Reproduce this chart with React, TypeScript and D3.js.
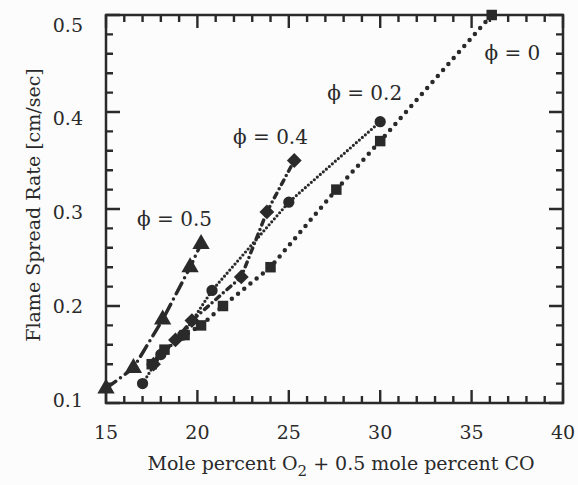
import React from "react";
import * as d3 from "d3";

const phi0X = [17.5, 18.2, 19.3, 20.2, 21.4, 24.0, 27.6, 30.0, 36.1];
const phi0Y = [0.14, 0.155, 0.17, 0.18, 0.2, 0.24, 0.32, 0.37, 0.5];
const phi02X = [17.0, 18.0, 19.2, 20.8, 25.0, 30.0];
const phi02Y = [0.12, 0.15, 0.17, 0.216, 0.307, 0.39];
const phi04X = [17.6, 18.8, 19.7, 22.4, 23.8, 25.3];
const phi04Y = [0.14, 0.165, 0.185, 0.23, 0.297, 0.35];
const phi05X = [15.0, 16.5, 18.1, 19.6, 20.2];
const phi05Y = [0.115, 0.136, 0.186, 0.24, 0.264];

const seriesLabels = ["\u03d5 = 0", "\u03d5 = 0.2", "\u03d5 = 0.4", "\u03d5 = 0.5"];
const labelX = [35.7, 27.1, 21.95, 16.7];
const labelY = [0.461, 0.42, 0.374, 0.29];

const xTicks = [15, 20, 25, 30, 35, 40];
const yTicks = [0.1, 0.2, 0.3, 0.4, 0.5];

const W = 578;
const H = 485;
const M = { left: 106, right: 563, top: 15, bottom: 403 };
const INK = "#2a2a2a";
const FONT = "'DejaVu Serif', serif";

export default function App() {
  const x = d3.scaleLinear().domain([15, 40]).range([M.left, M.right]);
  const y = d3.scaleLinear().domain([0.1, 0.5]).range([M.bottom, M.top]);
  const yLab = d3.scaleLinear().domain([0.1, 0.5]).range([400, 25]);

  const mk = (xs: number[], ys: number[]) => xs.map((v, i) => [v, ys[i]] as [number, number]);
  const lineGen = d3
    .line<[number, number]>()
    .x((d) => x(d[0]))
    .y((d) => y(d[1]));

  const s0 = mk(phi0X, phi0Y);
  const s02 = mk(phi02X, phi02Y);
  const s04 = mk(phi04X, phi04Y);
  const s05 = mk(phi05X, phi05Y);

  const sq = d3.symbol().type(d3.symbolSquare).size(110)()!;
  const ci = d3.symbol().type(d3.symbolCircle).size(100)()!;
  const di = d3.symbol().type(d3.symbolSquare).size(110)()!;
  const tr = d3.symbol().type(d3.symbolTriangle).size(130)()!;

  const xMinor = d3.range(15, 41);
  const yMinor = d3.range(10, 51, 2).map((v) => v / 100);

  let tickPath = "";
  xMinor.forEach((v) => {
    const L = v % 5 === 0 ? 13 : 7;
    const px = x(v);
    tickPath += `M${px},${M.bottom}V${M.bottom - L}M${px},${M.top}V${M.top + L}`;
  });
  yMinor.forEach((v, i) => {
    const L = i % 5 === 0 ? 14 : 7;
    const py = y(v);
    tickPath += `M${M.left},${py}H${M.left + L}M${M.right},${py}H${M.right - L}`;
  });

  return (
    <svg
      width={W}
      height={H}
      style={{ position: "absolute", left: 0, top: 0, background: "#fcfcfc" }}
    >
      <rect x={0} y={0} width={W} height={H} fill="#fcfcfc" />
      <path d={tickPath} fill="none" stroke={INK} strokeWidth={2.4} />
      <rect
        x={M.left}
        y={M.top}
        width={M.right - M.left}
        height={M.bottom - M.top}
        fill="none"
        stroke={INK}
        strokeWidth={2.5}
      />
      {/* lines */}
      <g fill="none" stroke={INK} strokeLinecap="round">
        <path d={lineGen(s0)!} strokeWidth={4.5} strokeDasharray="0 8" />
        <path d={lineGen(s02)!} strokeWidth={3.2} strokeDasharray="0 4" />
        <path d={lineGen(s04)!} strokeWidth={3.5} strokeDasharray="5 5 0 5" />
        <path d={lineGen(s05)!} strokeWidth={3.5} strokeDasharray="12 6 0 6" />
      </g>
      {/* markers */}
      <g fill={INK}>
        {s0.map((d, i) => (
          <path key={"m0" + i} d={sq} transform={`translate(${x(d[0])},${y(d[1])})`} />
        ))}
        {s02.map((d, i) => (
          <path key={"m2" + i} d={ci} transform={`translate(${x(d[0])},${y(d[1])})`} />
        ))}
        {s04.map((d, i) => (
          <path key={"m4" + i} d={di} transform={`translate(${x(d[0])},${y(d[1])}) rotate(45)`} />
        ))}
        {s05.map((d, i) => (
          <path key={"m5" + i} d={tr} transform={`translate(${x(d[0])},${y(d[1])})`} />
        ))}
      </g>
      {/* series labels */}
      <g fill={INK} fontFamily={FONT} fontSize={20}>
        {seriesLabels.map((t, i) => (
          <text key={"l" + i} x={x(labelX[i])} y={y(labelY[i])} dy="0.35em">
            {t}
          </text>
        ))}
      </g>
      {/* tick labels */}
      <g fill={INK} fontFamily={FONT} fontSize={19}>
        {xTicks.map((v) => (
          <text key={"xl" + v} x={x(v)} y={439} textAnchor="middle">
            {v}
          </text>
        ))}
        {yTicks.map((v) => (
          <text key={"yl" + v} x={83} y={yLab(v)} dy="0.35em" textAnchor="end">
            {v.toFixed(1)}
          </text>
        ))}
      </g>
      {/* axis titles */}
      <text x={341} y={470} textAnchor="middle" fontFamily={FONT} fontSize={19} fill={INK}>
        Mole percent O
        <tspan fontSize={15} dy={6}>2</tspan>
        <tspan dy={-6}> + 0.5 mole percent CO</tspan>
      </text>
      <text
        transform="translate(33,205) rotate(-90)"
        textAnchor="middle"
        dy="0.35em"
        fontFamily={FONT}
        fontSize={19}
        fill={INK}
      >
        Flame Spread Rate [cm/sec]
      </text>
    </svg>
  );
}
